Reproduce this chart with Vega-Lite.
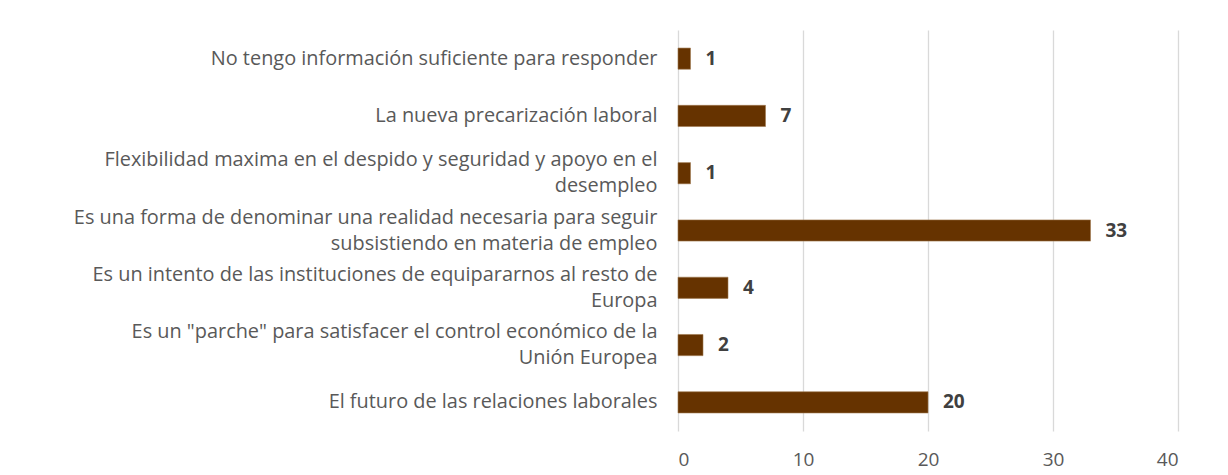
{
  "$schema": "https://vega.github.io/schema/vega-lite/v6.json",
  "width": 500,
  "height": 401,
  "autosize": {"type": "none"},
  "padding": {"left": 678, "top": 30, "right": 50, "bottom": 44},
  "background": "white",
  "config": {"view": {"stroke": null}, "font": "Open Sans"},
  "data": {
    "values": [
      {"label": "No tengo información suficiente para responder", "value": 1, "order": 1},
      {"label": "La nueva precarización laboral", "value": 7, "order": 2},
      {"label": "Flexibilidad maxima en el despido y seguridad y apoyo en el|desempleo", "value": 1, "order": 3},
      {"label": "Es una forma de denominar una realidad necesaria para seguir|subsistiendo en materia de empleo", "value": 33, "order": 4},
      {"label": "Es un intento de las instituciones de equipararnos al resto de|Europa", "value": 4, "order": 5},
      {"label": "Es un \"parche\" para satisfacer el control económico de la|Unión Europea", "value": 2, "order": 6},
      {"label": "El futuro de las relaciones laborales", "value": 20, "order": 7}
    ]
  },
  "encoding": {
    "y": {
      "field": "label",
      "type": "nominal",
      "sort": {"field": "order"},
      "scale": {"paddingInner": 0.63, "paddingOuter": 0.315},
      "axis": {
        "title": null,
        "domain": false,
        "ticks": false,
        "labelExpr": "split(datum.label, '|')",
        "labelFontSize": 19.9,
        "labelColor": "#595959",
        "labelPadding": 21,
        "labelBaseline": "middle",
        "labelLineHeight": 26,
        "labelLimit": 700,
        "labelOffset": {"condition": {"test": "indexof(datum.value, '|') >= 0", "value": -13}, "value": 0}
      }
    },
    "x": {
      "field": "value",
      "type": "quantitative",
      "scale": {"domain": [0, 40]},
      "axis": {
        "title": null,
        "values": [0, 10, 20, 30, 40],
        "domain": false,
        "ticks": false,
        "grid": true,
        "gridColor": "#d9d9d9",
        "gridWidth": 1.3,
        "labelFontSize": 19,
        "labelColor": "#595959",
        "labelPadding": 19
      }
    }
  },
  "layer": [
    {"mark": {"type": "bar", "color": "#663300", "stroke": "#a0784f", "strokeWidth": 0.6}},
    {
      "mark": {"type": "text", "align": "left", "dx": 15, "fontSize": 19, "fontWeight": "bold", "font": "Open Sans", "color": "#404040"},
      "encoding": {"text": {"field": "value", "type": "quantitative"}}
    }
  ]
}
